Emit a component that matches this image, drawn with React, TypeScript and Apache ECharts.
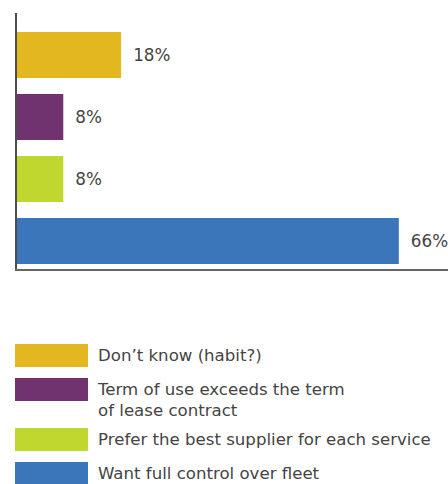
import React, { useEffect, useRef } from "react";
import * as echarts from "echarts";

const categories = [
  "Don\u2019t know (habit?)",
  "Term of use exceeds the term\nof lease contract",
  "Prefer the best supplier for each service",
  "Want full control over fleet",
];
const values = [18, 8, 8, 66];
const colors = ["#E2B71F", "#71336F", "#BFD72F", "#3B76BA"];

const FONT = '"DejaVu Sans", Verdana, sans-serif';

export default function App() {
  const ref = useRef<HTMLDivElement>(null);
  useEffect(() => {
    document.body.style.margin = "0";
    const chart = echarts.init(ref.current!, null, { renderer: "svg" });

    const legendItems: any[] = [];
    let y = 344;
    categories.forEach((name, i) => {
      const lines = name.split("\n").length;
      legendItems.push({
        type: "rect",
        shape: { x: 15, y, width: 73, height: 23 },
        style: { fill: colors[i] },
      });
      legendItems.push({
        type: "text",
        style: {
          text: name,
          x: 98,
          y: y + 11.5 - 10.5,
          font: `16.6px ${FONT}`,
          fill: "#444444",
          lineHeight: 21,
          verticalAlign: "top",
        },
      });
      y += 34 + (lines - 1) * 16;
    });

    chart.setOption({
      animation: false,
      grid: { left: 17, top: 24, width: 431, height: 248, containLabel: false },
      xAxis: {
        type: "value",
        min: 0,
        max: 74.5,
        show: false,
      },
      yAxis: {
        type: "category",
        data: categories,
        inverse: true,
        show: false,
      },
      series: [
        {
          type: "bar",
          barWidth: 46,
          data: values.map((v, i) => ({ value: v, itemStyle: { color: colors[i] } })),
          label: {
            show: true,
            position: "right",
            distance: 12,
            formatter: "{c}%",
            fontFamily: FONT,
            fontSize: 16.8,
            color: "#444444",
          },
        },
      ],
      graphic: [
        {
          type: "line",
          shape: { x1: 16, y1: 13, x2: 16, y2: 271 },
          style: { stroke: "#4d4d4d", lineWidth: 2 },
          z: 10,
        },
        {
          type: "line",
          shape: { x1: 15, y1: 270, x2: 448, y2: 270 },
          style: { stroke: "#666666", lineWidth: 2 },
          z: 10,
        },
        ...legendItems,
      ],
    });
    return () => chart.dispose();
  }, []);
  return <div ref={ref} style={{ width: 448, height: 484 }} />;
}
